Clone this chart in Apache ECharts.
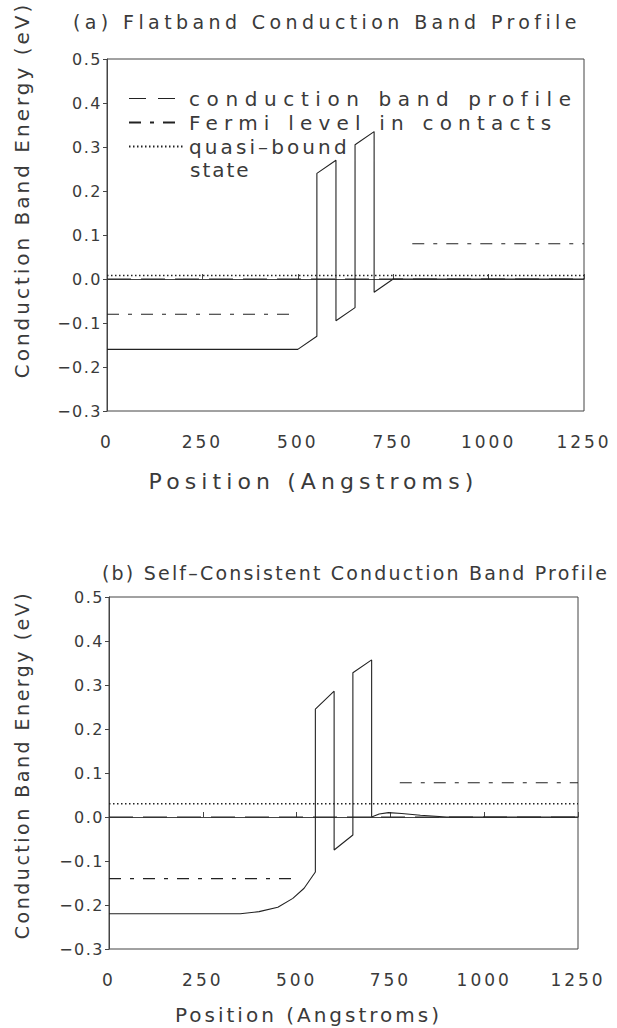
<!DOCTYPE html>
<html><head><meta charset="utf-8">
<script src="https://cdn.jsdelivr.net/npm/echarts@6/dist/echarts.min.js"></script>
<style>html,body{margin:0;padding:0;background:#fff}#c{width:617px;height:1028px}</style>
</head><body><div id="c"></div><script>
// ---- data ----
const xTicks = [0, 250, 500, 750, 1000, 1250];
const yTickLabels = ['\u22120.3', '\u22120.2', '\u22120.1', '0.0', '0.1', '0.2', '0.3', '0.4', '0.5'];
const titles = ['(a) Flatband Conduction Band Profile', '(b) Self\u2013Consistent Conduction Band Profile'];
const xName = 'Position (Angstroms)';
const yName = 'Conduction Band Energy (eV)';
const legendNames = ['conduction band profile', 'Fermi level in contacts', 'quasi\u2013bound state'];

// panel (a): flatband
const bandA = [[0,-0.16],[500,-0.16],[550,-0.13],[550,0.24],[600,0.27],[600,-0.095],[650,-0.065],[650,0.305],[700,0.335],[700,-0.03],[750,0],[1250,0]];
const fermiA_left = [[0,-0.08],[500,-0.08]];
const fermiA_right = [[800,0.08],[1250,0.08]];
const quasiA = [[0,0.008],[1250,0.008]];
const zeroLine = [[0,0],[1250,0]];

// panel (b): self-consistent
const bandB = [[0,-0.22],[350,-0.22],[400,-0.215],[450,-0.205],[490,-0.185],[520,-0.162],[550,-0.125],[550,0.245],[600,0.286],[600,-0.075],[650,-0.041],[650,0.328],[700,0.357],[700,0.0],[720,0.007],[745,0.01],[780,0.008],[830,0.004],[900,0.0],[1250,0]];
const fermiB_left = [[0,-0.14],[500,-0.14]];
const fermiB_right = [[775,0.078],[1250,0.078]];
const quasiB = [[0,0.03],[1250,0.03]];

// ---- styles ----
const FONT = 'DejaVu Sans';
const INK = '#222';
const TXT = '#3a3a3a';
const fermiDash = [12, 9, 4, 9];
const dotDash = [1.5, 2.5];
const zeroDash = [24, 10];

function xAxisFor(i, nameSize, gap, shift) {
  return {
    type: 'value', gridIndex: i, min: 0, max: 1250, interval: 250,
    axisLine: {show: true, lineStyle: {color: '#444', width: 1}},
    axisTick: {show: true, inside: true, length: 5, lineStyle: {color: '#444'}},
    splitLine: {show: false},
    axisLabel: {fontFamily: FONT, fontSize: 17, color: TXT, margin: 22,
      formatter: v => String(xTicks[Math.round(v / 250)])},
    name: xName, nameLocation: 'middle', nameGap: gap,
    nameTextStyle: {fontFamily: FONT, fontSize: nameSize, color: TXT, padding: [0, shift, 0, 0]}
  };
}
function yAxisFor(i) {
  return {
    type: 'value', gridIndex: i, min: -0.3, max: 0.5, interval: 0.1,
    axisLine: {show: true, lineStyle: {color: '#444', width: 1}},
    axisTick: {show: true, inside: false, length: 4, lineStyle: {color: '#444'}},
    splitLine: {show: false},
    axisLabel: {fontFamily: FONT, fontSize: 16, color: TXT, margin: 5,
      formatter: v => yTickLabels[Math.round((v + 0.3) * 10)]}
  };
}
function line(name, data, gi, style, z) {
  return {type: 'line', name: name, xAxisIndex: gi, yAxisIndex: gi, data: data,
    symbol: 'none', silent: true, animation: false, z: z || 2,
    itemStyle: {color: INK},
    lineStyle: Object.assign({color: INK, width: 1.1}, style)};
}

const chart = echarts.init(document.getElementById('c'), null, {renderer: 'svg'});
chart.setOption({
  backgroundColor: '#fff',
  animation: false,
  title: [
    {text: titles[0], left: 68, top: 7, textStyle: {fontFamily: FONT, fontSize: 19, fontWeight: 'normal', color: TXT}},
    {text: titles[1], left: 97, top: 558, textStyle: {fontFamily: FONT, fontSize: 19, fontWeight: 'normal', color: TXT}}
  ],
  grid: [
    {left: 107, top: 59, width: 477, height: 352, show: true, borderColor: '#444', borderWidth: 1, backgroundColor: 'transparent'},
    {left: 109, top: 597, width: 469, height: 352, show: true, borderColor: '#444', borderWidth: 1, backgroundColor: 'transparent'}
  ],
  xAxis: [xAxisFor(0, 22, 59, 64), xAxisFor(1, 20, 56, 70)],
  yAxis: [yAxisFor(0), yAxisFor(1)],
  legend: {
    orient: 'vertical', left: 123, top: 83, itemWidth: 55, itemHeight: 14, itemGap: 3,
    itemStyle: {opacity: 0},
    textStyle: {fontFamily: FONT, fontSize: 20, color: TXT, lineHeight: 21},
    data: [
      {name: legendNames[0], lineStyle: {type: [17, 12], width: 1.1, color: INK}},
      {name: legendNames[1]},
      {name: legendNames[2]}
    ],
    // the third entry wraps onto a second line ("state"), drawn just below it
    formatter: n => n === legendNames[2] ? legendNames[2].split(' ')[0] : n,
    selectedMode: false
  },
  graphic: [
    {type: 'text', left: 190, top: 160,
      style: {text: legendNames[2].split(' ')[1], font: '20px "DejaVu Sans"', fill: TXT}},
    {type: 'text', x: 22, y: 190, rotation: Math.PI / 2,
      style: {text: yName, font: '20px "DejaVu Sans"', fill: TXT, align: 'center', verticalAlign: 'middle'}},
    {type: 'text', x: 22, y: 765, rotation: Math.PI / 2,
      style: {text: yName, font: '19px "DejaVu Sans"', fill: TXT, align: 'center', verticalAlign: 'middle'}}
  ],
  series: [
    line('zeroA', zeroLine, 0, {type: zeroDash, width: 1}, 1),
    line(legendNames[0], bandA, 0, {type: 'solid'}, 3),
    line(legendNames[1], fermiA_left, 0, {type: fermiDash}),
    line(legendNames[1], fermiA_right, 0, {type: fermiDash}),
    line(legendNames[2], quasiA, 0, {type: dotDash, width: 1.4}),
    line('zeroB', zeroLine, 1, {type: zeroDash, width: 1}, 1),
    line(legendNames[0], bandB, 1, {type: 'solid'}, 3),
    line(legendNames[1], fermiB_left, 1, {type: fermiDash}),
    line(legendNames[1], fermiB_right, 1, {type: fermiDash}),
    line(legendNames[2], quasiB, 1, {type: dotDash, width: 1.4})
  ]
});

// The reference uses a widely spaced plotter font: widen the letter spacing of the real SVG text.
function spacingFor(s, fs) {
  if (s === titles[0]) return 4.4;
  if (s === titles[1]) return 2.2;
  if (s === legendNames[0]) return 6.6;
  if (s === legendNames[1]) return 6.2;
  if (s === 'quasi\u2013bound') return 3.1;
  if (s === 'state') return 2;
  if (s === xName) return fs >= 21 ? 5.1 : 3.0;
  if (s === yName) return fs >= 20 ? 3.0 : 2.5;
  if (/^[\u2212\d.]+$/.test(s)) return fs >= 17 ? 3 : 1.5;
  return 0;
}
function widen() {
  document.querySelectorAll('#c svg text').forEach(t => {
    const s = (t.textContent || '').trim();
    const fs = parseFloat(getComputedStyle(t).fontSize) || 16;
    const ls = spacingFor(s, fs);
    if (ls) t.style.letterSpacing = ls + 'px';
  });
}
widen();
chart.on('finished', widen);
setTimeout(widen, 50);
</script></body></html>
